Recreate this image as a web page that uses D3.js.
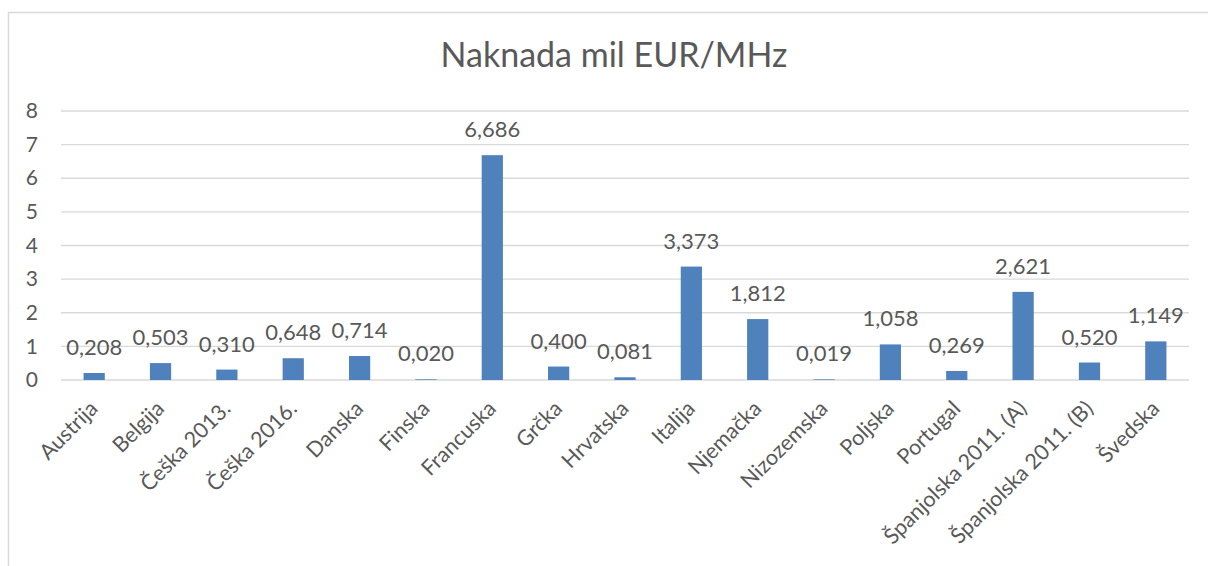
<!DOCTYPE html>
<html>
<head>
<meta charset="utf-8">
<script src="https://cdn.jsdelivr.net/npm/d3@7"></script>
<style>
  body { margin: 0; background: #fff; }
  svg { display: block; font-family: Lato, 'Open Sans', sans-serif; }
</style>
</head>
<body>
<svg width="1208" height="566"></svg>
<script>
const categories = ['Austrija', 'Belgija', 'Češka 2013.', 'Češka 2016.', 'Danska', 'Finska',
  'Francuska', 'Grčka', 'Hrvatska', 'Italija', 'Njemačka', 'Nizozemska', 'Poljska',
  'Portugal', 'Španjolska 2011. (A)', 'Španjolska 2011. (B)', 'Švedska'];
const values = [0.208, 0.503, 0.310, 0.648, 0.714, 0.020, 6.686, 0.400, 0.081, 3.373,
  1.812, 0.019, 1.058, 0.269, 2.621, 0.520, 1.149];
const yTicks = [0, 1, 2, 3, 4, 5, 6, 7, 8];
const title = 'Naknada mil EUR/MHz';

const svg = d3.select('svg');
const plot = { left: 61, right: 1189, top: 111, bottom: 380 };
const textColor = '#595959';

// chart frame (right and bottom edges are cut off in the original)
svg.append('path')
  .attr('d', 'M8.5,566 V12.5 H1208')
  .attr('fill', 'none')
  .attr('stroke', '#d9d9d9')
  .attr('stroke-width', 1.5);

const x = d3.scaleBand().domain(categories).range([plot.left, plot.right])
  .paddingInner(0.68).paddingOuter(0.34);
const y = d3.scaleLinear().domain([0, 8]).range([plot.bottom, plot.top]);

// grid
svg.append('g')
  .selectAll('line')
  .data(yTicks)
  .join('line')
  .attr('x1', plot.left)
  .attr('x2', plot.right)
  .attr('y1', d => y(d))
  .attr('y2', d => y(d))
  .attr('stroke', '#d9d9d9')
  .attr('stroke-width', 1.3);

// y axis labels
const yAxis = svg.append('g')
  .attr('transform', `translate(${plot.left},0)`)
  .call(d3.axisLeft(y).tickValues(yTicks).tickSize(0).tickPadding(23).tickFormat(d3.format('d')));
yAxis.select('.domain').remove();
yAxis.selectAll('text')
  .attr('fill', textColor)
  .attr('font-size', '21px')
  .attr('font-family', 'Lato, sans-serif');

// bars
svg.append('g')
  .selectAll('rect')
  .data(values)
  .join('rect')
  .attr('x', (d, i) => x(categories[i]))
  .attr('width', x.bandwidth())
  .attr('y', d => y(d))
  .attr('height', d => y(0) - y(d))
  .attr('fill', '#4f81bd');

// data labels
const fmt = d => d.toFixed(3).replace('.', ',');
svg.append('g')
  .selectAll('text')
  .data(values)
  .join('text')
  .attr('x', (d, i) => x(categories[i]) + x.bandwidth() / 2)
  .attr('y', d => y(d) - 18)
  .attr('text-anchor', 'middle')
  .attr('font-size', '22px')
  .attr('fill', textColor)
  .text(fmt);

// x axis labels, rotated
const xAxis = svg.append('g')
  .attr('transform', `translate(0,${plot.bottom})`)
  .call(d3.axisBottom(x).tickSize(0).tickPadding(0));
xAxis.select('.domain').remove();
xAxis.selectAll('text')
  .attr('fill', textColor)
  .attr('font-size', '21.5px')
  .attr('font-family', 'Lato, sans-serif')
  .attr('text-anchor', 'end')
  .attr('dy', null)
  .attr('y', 0)
  .attr('transform', 'translate(5,30) rotate(-45)');

// title
svg.append('text')
  .attr('x', 614)
  .attr('y', 67)
  .attr('text-anchor', 'middle')
  .attr('font-size', '34px')
  .attr('fill', textColor)
  .text(title);
</script>
</body>
</html>
